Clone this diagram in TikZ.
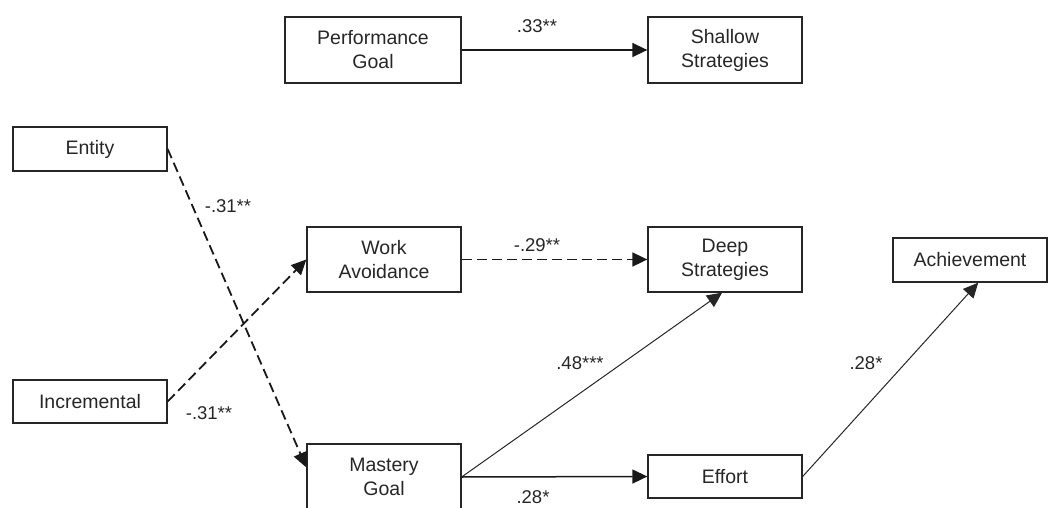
\documentclass[tikz,border=0pt]{standalone}
\usepackage{fontspec}
\setmainfont{Liberation Sans}
\usetikzlibrary{arrows.meta}
\begin{document}
\begin{tikzpicture}[x=1pt,y=-1pt,
  box/.style={draw=black!85, line width=1.3pt, rectangle, minimum width=154pt,
    align=center, font=\fontsize{19.5}{24}\selectfont, inner sep=0pt, text=black!85},
  path/.style={line width=1.5pt, black!90, -{Triangle[length=15pt,width=14pt]}},
  thin path/.style={line width=1pt, black!85, -{Triangle[length=15pt,width=14pt]}},
  neg/.style={path, line width=1.8pt, dash pattern=on 10pt off 5pt},
  coef/.style={font=\fontsize{18.5}{22}\selectfont, text=black!85, inner sep=0pt}]
  \useasboundingbox (0,0) rectangle (1060,508);
  \begin{scope}
  \clip (0,0) rectangle (1060,508);

  % boxes
  \node[box, minimum width=176pt, minimum height=66pt] (perf)  at (373,50)    {Performance\\Goal};
  \node[box, minimum height=66pt] (shallow) at (725,50)    {Shallow\\Strategies};
  \node[box, minimum height=44pt] (entity)  at (90,149)    {Entity};
  \node[box, minimum height=43pt] (incr)    at (90,401.5)  {Incremental};
  \node[box, minimum height=65pt] (work)    at (384,259.5) {Work\\Avoidance};
  \node[box, minimum height=65pt] (deep)    at (725,259.5) {Deep\\Strategies};
  \node[box, minimum height=66pt] (mastery) at (384,477)   {Mastery\\Goal};
  \node[box, minimum height=43pt] (effort)  at (725,476.5) {Effort};
  \node[box, minimum height=44pt] (achieve) at (970,260)   {Achievement};

  % paths
  \draw[path] (perf) -- (shallow);
  \draw[neg] (work) -- (deep);
  \draw[neg] (entity.east) -- (mastery.173);
  \draw[neg] (incr.east) -- (work.west);
  \draw[path] (mastery.east) -- (effort.west);
  \draw[thin path] (mastery.east) -- (deep.265);
  \draw[thin path] (effort.east) -- (achieve.290);

  % coefficients
  \node[coef] (c1) at (537,26)  {.33**};
  \node[coef] (c2) at (228,206) {-.31**};
  \node[coef] (c3) at (209,413) {-.31**};
  \node[coef] (c4) at (537,245) {-.29**};
  \node[coef] (c5) at (580,363) {.48***};
  \node[coef] (c6) at (866,363) {.28*};
  \node[coef] (c7) at (533,497) {.28*};
  \end{scope}
\end{tikzpicture}
\end{document}
